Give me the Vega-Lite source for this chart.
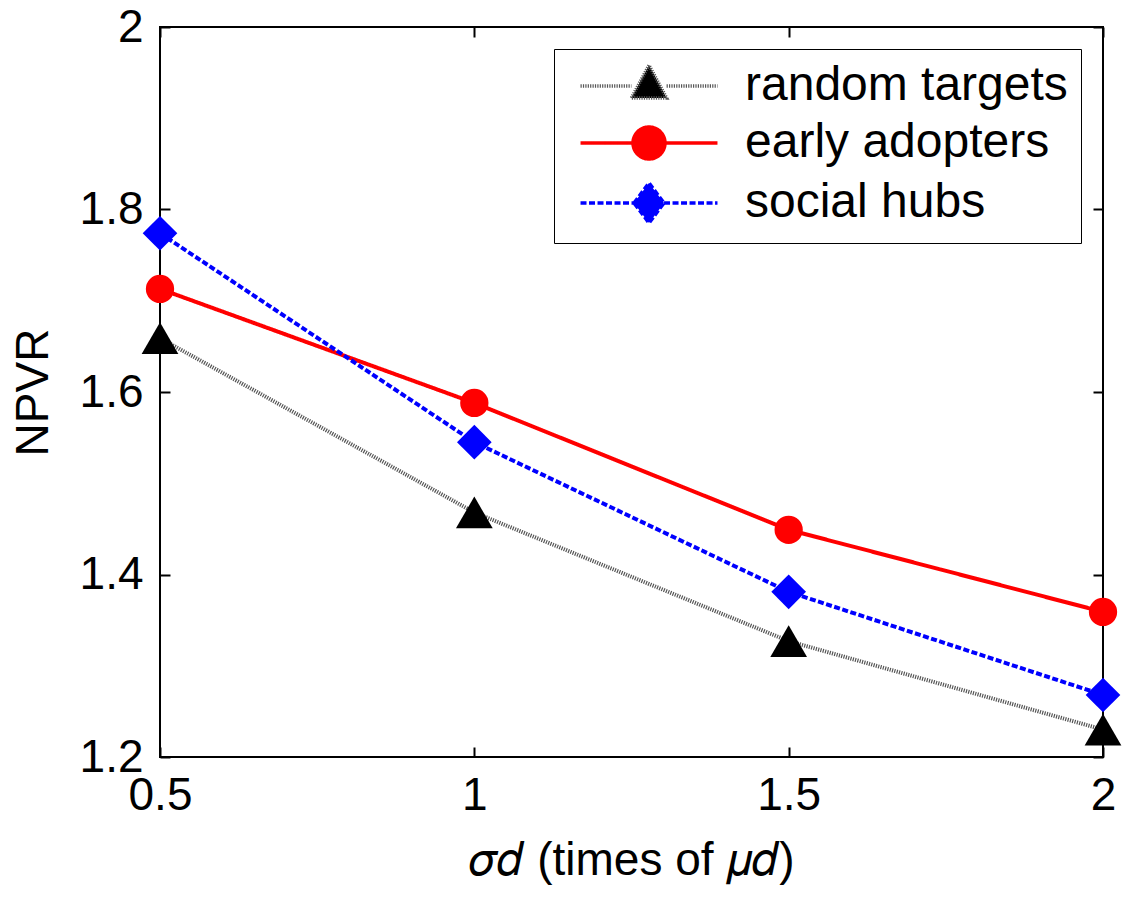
{
  "$schema": "https://vega.github.io/schema/vega-lite/v6.json",
  "width": 943,
  "height": 730,
  "autosize": "none",
  "padding": {"left": 160, "top": 27, "right": 26, "bottom": 142},
  "background": "white",
  "config": {
    "font": "Liberation Sans",
    "view": {"stroke": "black", "strokeWidth": 2},
    "axis": {
      "grid": false, "domain": false, "tickColor": "black", "tickSize": -10, "tickWidth": 2,
      "labelFont": "Liberation Sans", "labelFontSize": 46, "labelColor": "black", "labelFlush": false, "labelOverlap": false,
      "titleFont": "Liberation Sans", "titleFontSize": 46, "titleFontWeight": "normal", "titleColor": "black"
    },
    "legend": {
      "orient": "top-right", "offset": 22, "padding": 13, "rowPadding": 9,
      "labelFont": "Liberation Sans", "labelFontSize": 48, "labelColor": "black", "labelLimit": 500,
      "strokeColor": "black", "fillColor": "white",
      "symbolSize": 1024, "symbolStrokeWidth": 3.5, "symbolOffset": 58, "labelOffset": 72
    }
  },
  "data": {"values": [
    {"series": "random targets", "x": 0.5, "y": 1.659},
    {"series": "random targets", "x": 1.0, "y": 1.468},
    {"series": "random targets", "x": 1.5, "y": 1.327},
    {"series": "random targets", "x": 2.0, "y": 1.230},
    {"series": "early adopters", "x": 0.5, "y": 1.713},
    {"series": "early adopters", "x": 1.0, "y": 1.588},
    {"series": "early adopters", "x": 1.5, "y": 1.449},
    {"series": "early adopters", "x": 2.0, "y": 1.359},
    {"series": "social hubs", "x": 0.5, "y": 1.774},
    {"series": "social hubs", "x": 1.0, "y": 1.545},
    {"series": "social hubs", "x": 1.5, "y": 1.381},
    {"series": "social hubs", "x": 2.0, "y": 1.268}
  ]},
  "encoding": {
    "x": {"field": "x", "type": "quantitative", "scale": {"domain": [0.5, 2], "nice": false, "zero": false}, "axis": null},
    "y": {"field": "y", "type": "quantitative", "scale": {"domain": [1.2, 2], "nice": false, "zero": false}, "axis": null}
  },
  "resolve": {"axis": {"x": "independent", "y": "independent"}},
  "layer": [
    {
      "transform": [{"filter": "datum.x > 100"}],
      "mark": {"type": "point", "filled": true, "opacity": 1},
      "encoding": {
        "x": {"field": "x", "type": "quantitative", "scale": {"domain": [0.5, 2], "nice": false, "zero": false},
              "axis": {"orient": "top", "values": [0.5, 1, 1.5, 2], "labels": false, "title": null}},
        "y": {"field": "y", "type": "quantitative", "scale": {"domain": [1.2, 2], "nice": false, "zero": false},
              "axis": {"orient": "right", "values": [1.2, 1.4, 1.6, 1.8, 2], "labels": false, "title": null}},
        "fill": {"field": "series", "type": "nominal", "scale": {"domain": ["random targets", "early adopters", "social hubs"], "range": ["#000000", "#ff0000", "#0000ff"]}, "legend": {"title": null}},
        "stroke": {"field": "series", "type": "nominal", "scale": {"domain": ["random targets", "early adopters", "social hubs"], "range": ["#555555", "#ff0000", "#0000ff"]}, "legend": {"title": null}},
        "strokeDash": {"field": "series", "type": "nominal", "scale": {"domain": ["random targets", "early adopters", "social hubs"], "range": [[1.2, 1.2], [1, 0], [6, 2.5]]}, "legend": {"title": null}},
        "shape": {"field": "series", "type": "nominal", "scale": {"domain": ["random targets", "early adopters", "social hubs"], "range": [
          "M-4.28,0H-1.1M1.1,0H4.28M-1.1,0.75L0,-1.3L1.1,0.75Z",
          "M-4.28,0H-1M1,0H4.28M-1,0A1,1 0 1,1 1,0A1,1 0 1,1 -1,0Z",
          "M-4.28,0H-0.94M0.94,0H4.28M-0.94,0L0,-1.25L0.94,0L0,1.25Z"
        ]}, "legend": {"title": null}}
      }
    },
    {
      "mark": {"type": "line", "strokeCap": "butt", "strokeWidth": 4},
      "encoding": {
        "x": {"field": "x", "type": "quantitative", "scale": {"domain": [0.5, 2], "nice": false, "zero": false},
              "axis": {"orient": "bottom", "values": [0.5, 1, 1.5, 2], "format": "~g", "labelPadding": 26, "titlePadding": 20, "title": "𝜎𝑑 (times of 𝜇𝑑)"}},
        "y": {"field": "y", "type": "quantitative", "scale": {"domain": [1.2, 2], "nice": false, "zero": false},
              "axis": {"orient": "left", "values": [1.2, 1.4, 1.6, 1.8, 2], "format": "~g", "labelPadding": 27, "titlePadding": 22, "title": "NPVR"}},
        "stroke": {"field": "series", "type": "nominal", "scale": {"domain": ["random targets", "early adopters", "social hubs"], "range": ["#555555", "#ff0000", "#0000ff"]}, "legend": {"title": null}},
        "strokeDash": {"field": "series", "type": "nominal", "scale": {"domain": ["random targets", "early adopters", "social hubs"], "range": [[1.2, 1.2], [1, 0], [6, 2.5]]}, "legend": {"title": null}}
      }
    },
    {
      "transform": [{"filter": "datum.series === 'random targets'"}],
      "mark": {"type": "point", "shape": "triangle-up", "filled": true, "color": "black", "opacity": 1, "size": 1350}
    },
    {
      "transform": [{"filter": "datum.series === 'early adopters'"}],
      "mark": {"type": "point", "shape": "circle", "filled": true, "color": "#ff0000", "opacity": 1, "size": 800}
    },
    {
      "transform": [{"filter": "datum.series === 'social hubs'"}],
      "mark": {"type": "point", "shape": "diamond", "filled": true, "color": "#0000ff", "opacity": 1, "size": 1200}
    }
  ]
}
